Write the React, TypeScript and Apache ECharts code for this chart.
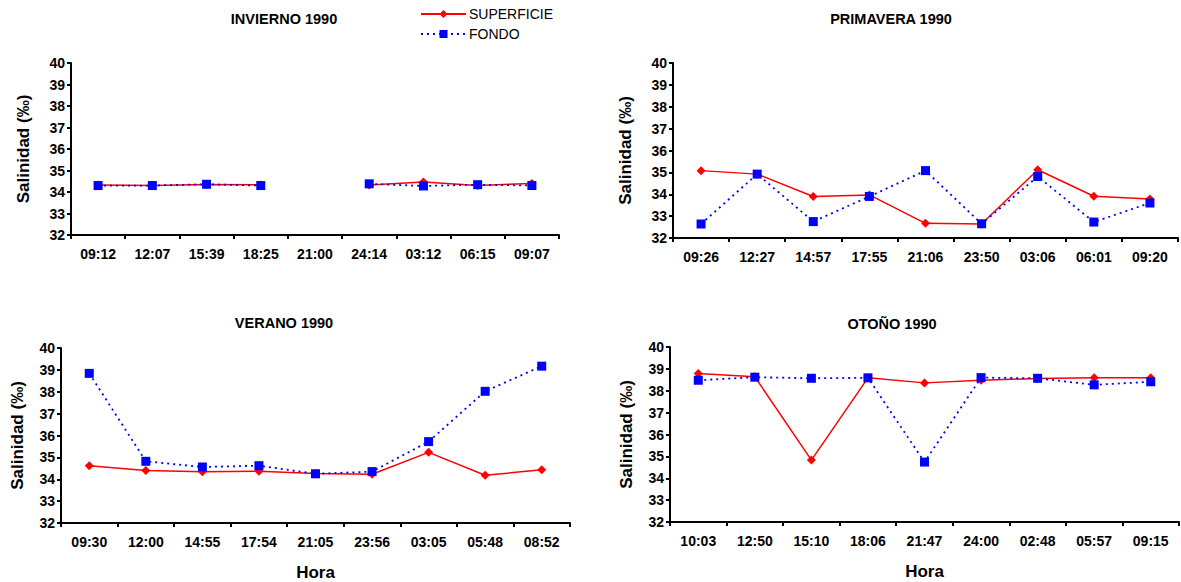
import React, { useEffect, useRef } from "react";
import * as echarts from "echarts";

const catInvierno = ["09:12", "12:07", "15:39", "18:25", "21:00", "24:14", "03:12", "06:15", "09:07"];
const supInvierno = [34.33, 34.3, 34.35, 34.33, null, 34.33, 34.46, 34.3, 34.4];
const fonInvierno = [34.3, 34.3, 34.36, 34.3, null, 34.38, 34.28, 34.34, 34.3];

const catPrimavera = ["09:26", "12:27", "14:57", "17:55", "21:06", "23:50", "03:06", "06:01", "09:20"];
const supPrimavera = [35.08, 34.92, 33.9, 33.97, 32.67, 32.64, 35.12, 33.91, 33.78];
const fonPrimavera = [32.64, 34.92, 32.75, 33.9, 35.08, 32.65, 34.81, 32.73, 33.6];

const catVerano = ["09:30", "12:00", "14:55", "17:54", "21:05", "23:56", "03:05", "05:48", "08:52"];
const supVerano = [34.62, 34.4, 34.34, 34.37, 34.26, 34.23, 35.23, 34.18, 34.43];
const fonVerano = [38.84, 34.82, 34.56, 34.62, 34.25, 34.35, 35.72, 38.02, 39.17];

const catOtono = ["10:03", "12:50", "15:10", "18:06", "21:47", "24:00", "02:48", "05:57", "09:15"];
const supOtono = [38.79, 38.64, 34.83, 38.59, 38.36, 38.48, 38.56, 38.59, 38.59];
const fonOtono = [38.48, 38.62, 38.57, 38.59, 34.74, 38.6, 38.57, 38.27, 38.41];

const titles = ["INVIERNO 1990", "PRIMAVERA 1990", "VERANO 1990", "OTOÑO 1990"];
const yName = "Salinidad (‰)";
const xName = "Hora";
const serieNames = ["SUPERFICIE", "FONDO"];

const FONT = "'Liberation Sans', Arial, sans-serif";

export default function App() {
  const ref = useRef<HTMLDivElement>(null);
  useEffect(() => {
    document.body.style.margin = "0";
    const chart = echarts.init(ref.current!, null, { renderer: "svg" });
    const grids = [
      { left: 71, top: 63, width: 488, height: 172 },
      { left: 673, top: 63, width: 505, height: 175 },
      { left: 61, top: 348, width: 509, height: 175 },
      { left: 670, top: 347, width: 509, height: 175 },
    ];
    const cats = [catInvierno, catPrimavera, catVerano, catOtono];
    const sups = [supInvierno, supPrimavera, supVerano, supOtono];
    const fons = [fonInvierno, fonPrimavera, fonVerano, fonOtono];
    const yGaps = [39, 39.5, 35, 35.5];
    const titlePos = [
      { x: 284, y: 11 },
      { x: 891, y: 11 },
      { x: 284, y: 315 },
      { x: 892, y: 316 },
    ];
    const axisLine = { show: true, lineStyle: { color: "#000", width: 2 } };
    const axisTick = { show: true, inside: false, length: 4, lineStyle: { color: "#000", width: 2 } };
    const labelStyle = { color: "#000", fontWeight: "bold", fontSize: 14, fontFamily: FONT };

    const option: any = {
      animation: false,
      backgroundColor: "#fff",
      title: titles.map((t, i) => ({
        text: t,
        left: titlePos[i].x,
        top: titlePos[i].y,
        textAlign: "center",
        padding: 0,
        textStyle: { fontSize: 14.5, fontWeight: "bold", color: "#000", fontFamily: FONT },
      })),
      legend: {
        data: serieNames,
        orient: "vertical",
        left: 420,
        top: 7,
        padding: 0,
        itemWidth: 45,
        itemHeight: 10,
        itemGap: 6,
        textStyle: { fontSize: 14, color: "#000", fontFamily: FONT, padding: [0, 0, 0, -2] },
      },
      grid: grids,
      xAxis: grids.map((_, i) => ({
        type: "category",
        gridIndex: i,
        data: cats[i],
        boundaryGap: true,
        axisLine,
        axisTick: { ...axisTick, alignWithLabel: false },
        axisLabel: { ...labelStyle, margin: 12, interval: 0 },
        splitLine: { show: false },
        name: i >= 2 ? xName : "",
        nameLocation: "middle",
        nameGap: 41,
        nameTextStyle: { fontSize: 17, fontWeight: "bold", color: "#000", fontFamily: FONT },
      })),
      yAxis: grids.map((_, i) => ({
        type: "value",
        gridIndex: i,
        min: 32,
        max: 40,
        interval: 1,
        axisLine,
        axisTick,
        axisLabel: { ...labelStyle, margin: 6 },
        splitLine: { show: false },
        name: yName,
        nameLocation: "middle",
        nameGap: yGaps[i],
        nameRotate: 90,
        nameTextStyle: { fontSize: 17, fontWeight: "bold", color: "#000", fontFamily: FONT },
      })),
      series: [
        ...grids.map((_, i) => ({
          name: serieNames[0],
          type: "line",
          xAxisIndex: i,
          yAxisIndex: i,
          data: sups[i],
          symbol: "diamond",
          symbolSize: 9,
          connectNulls: false,
          itemStyle: { color: "#FF0000" },
          lineStyle: { color: "#FF0000", width: 1.5, type: "solid" },
          z: 2,
        })),
        ...grids.map((_, i) => ({
          name: serieNames[1],
          type: "line",
          xAxisIndex: i,
          yAxisIndex: i,
          data: fons[i],
          symbol: "rect",
          symbolSize: 9,
          connectNulls: false,
          itemStyle: { color: "#0000FF" },
          lineStyle: { color: "#0000FF", width: 1.8, type: [2, 4] },
          z: 3,
        })),
      ],
    };
    chart.setOption(option);
    return () => chart.dispose();
  }, []);
  return <div ref={ref} style={{ width: 1181, height: 582 }} />;
}
